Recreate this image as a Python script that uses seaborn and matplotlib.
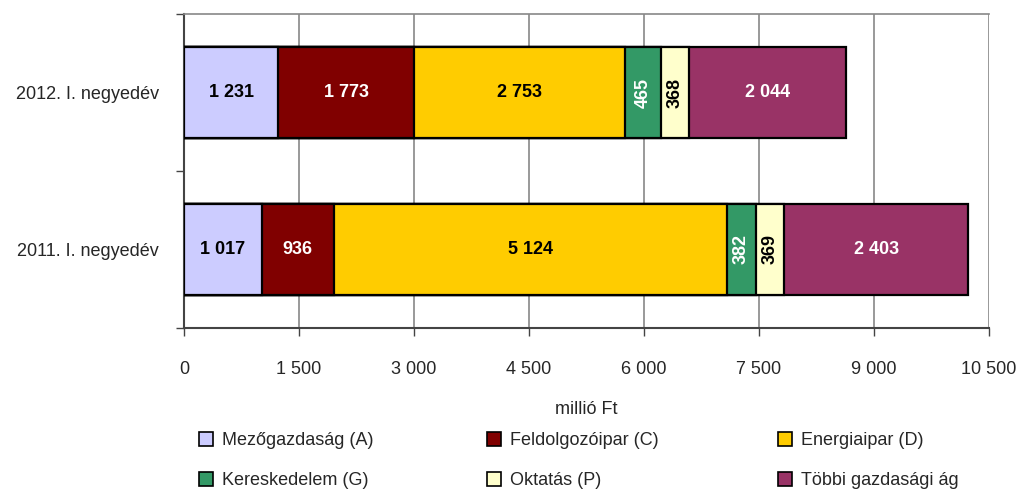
import matplotlib
matplotlib.use("Agg")
import matplotlib.pyplot as plt
import seaborn as sns
import pandas as pd
import numpy as np
from matplotlib.patches import Patch

periods = ["2012. I. negyedév", "2011. I. negyedév"]
sectors = ["Mezőgazdaság (A)", "Feldolgozóipar (C)", "Energiaipar (D)",
           "Kereskedelem (G)", "Oktatás (P)", "Többi gazdasági ág"]
v2012 = [1231, 1773, 2753, 465, 368, 2044]
v2011 = [1017, 936, 5124, 382, 369, 2403]
colors = ["#CCCCFF", "#800000", "#FFCC00", "#339966", "#FFFFCC", "#993366"]
text_colors = ["black", "white", "black", "white", "black", "white"]
rotated = [False, False, False, True, True, False]
xticks = [0, 1500, 3000, 4500, 6000, 7500, 9000, 10500]

sns.set_theme(style="white")
plt.rcParams["font.family"] = ["Liberation Sans", "DejaVu Sans"]

fig = plt.figure(figsize=(10.21, 4.90), dpi=100)
ax = fig.add_axes([184/1021, 1-328/490, (989-184)/1021, (328-14)/490])

rows = []
for p, vals in zip(periods, [v2012, v2011]):
    cum = np.cumsum(vals)
    for s, v, c in zip(sectors, vals, cum):
        rows.append({"period": p, "sector": s, "value": v, "cum": c})
df = pd.DataFrame(rows)

for i in range(len(sectors) - 1, -1, -1):
    sub = df[df["sector"] == sectors[i]]
    sns.barplot(data=sub, x="cum", y="period", order=periods, orient="h",
                color=colors[i], saturation=1, width=0.58,
                edgecolor="black", linewidth=1.6, ax=ax, zorder=3)

for yi, p in enumerate(periods):
    sub = df[df["period"] == p]
    for i, (_, r) in enumerate(sub.iterrows()):
        xc = r["cum"] - r["value"] / 2
        lab = f"{r['value']:,}".replace(",", " ")
        ax.text(xc, yi, lab, ha="center", va="center", color=text_colors[i],
                fontsize=13, fontweight="bold", rotation=90 if rotated[i] else 0,
                zorder=5)

ax.set_xlim(0, 10500)
ax.set_ylim(1.5, -0.5)
ax.set_xticks(xticks)
ax.set_xticklabels([f"{t:,}".replace(",", " ") for t in xticks], fontsize=13)
ax.set_yticks([-0.5, 0.5, 1.5], minor=False)
ax.set_yticklabels([])
ax.set_yticks([0, 1], minor=True)
ax.set_yticklabels(periods, minor=True, fontsize=13)
ax.tick_params(axis="y", which="minor", length=0, pad=18)
ax.tick_params(axis="y", which="major", direction="out", length=6, width=1, color="#444444", left=True)
ax.tick_params(axis="x", direction="out", length=6, width=1, color="#444444", bottom=True, pad=18)
ax.grid(axis="x", color="#888888", linewidth=1.2, zorder=0)
ax.set_axisbelow(True)
ax.set_xlabel("millió Ft", fontsize=13, labelpad=16)
ax.set_ylabel("")
for side in ["left", "bottom"]:
    ax.spines[side].set_color("#444444")
    ax.spines[side].set_linewidth(1.5)
ax.spines["right"].set_visible(False)
ax.spines["top"].set_color("#888888")
ax.spines["top"].set_linewidth(1.2)

handles = [Patch(facecolor=c, edgecolor="black", linewidth=1.2) for c in colors]
col_x = [199, 487, 778]
for k in range(3):
    idx = [k, k + 3]
    leg = fig.legend([handles[j] for j in idx], [sectors[j] for j in idx],
                     loc="upper left", bbox_to_anchor=(col_x[k]/1021, 1-432/490),
                     ncol=1, frameon=False, fontsize=13, handlelength=0.8, handleheight=0.8,
                     handletextpad=0.5, labelspacing=1.25, borderpad=0, borderaxespad=0)

fig.savefig("out.png", dpi=100)
